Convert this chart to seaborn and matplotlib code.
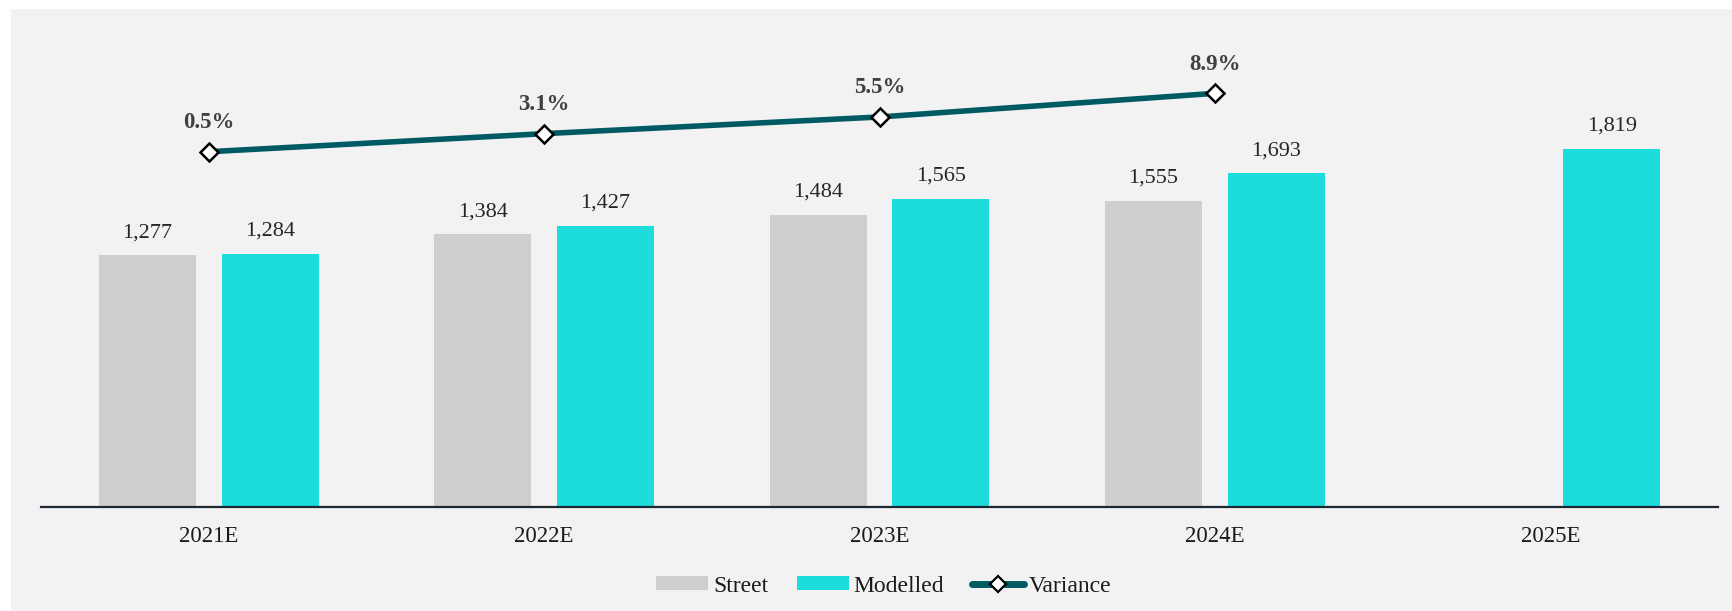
import numpy as np
import pandas as pd
import matplotlib
matplotlib.use("Agg")
import matplotlib.pyplot as plt
import seaborn as sns
from matplotlib.patches import Patch, Rectangle
from matplotlib.lines import Line2D

# ---- data ----
years = ["2021E", "2022E", "2023E", "2024E", "2025E"]
street = [1277, 1384, 1484, 1555, np.nan]
modelled = [1284, 1427, 1565, 1693, 1819]
variance_years = ["2021E", "2022E", "2023E", "2024E"]
variance_pct = [0.5, 3.1, 5.5, 8.9]
series_names = ["Street", "Modelled", "Variance"]

# ---- style ----
GRAY = "#d0cecf"
CYAN = "#1cdcdc"
TEAL = "#005a64"
PANEL = "#f2f2f2"

sns.set_theme(style="white")
plt.rcParams["font.family"] = ["Liberation Serif", "DejaVu Serif"]

W, H = 1732, 611
fig = plt.figure(figsize=(W / 100, H / 100), dpi=100, facecolor="white")
fig.patches.append(Rectangle((11 / W, 0), 1, 1 - 9 / H, transform=fig.transFigure,
                             facecolor=PANEL, edgecolor="none", zorder=-10))

ax = fig.add_axes([41 / W, 104 / H, 1677 / W, 498 / H])
ax.set_facecolor("none")

df = pd.DataFrame({
    "Year": years * 2,
    "Series": [series_names[0]] * len(years) + [series_names[1]] * len(years),
    "Value": street + modelled,
})

sns.barplot(data=df, x="Year", y="Value", hue="Series", order=years,
            hue_order=series_names[:2], palette=[GRAY, CYAN], width=0.732, gap=0.21,
            saturation=1, errorbar=None, legend=False, linewidth=0, ax=ax)

ax.set_xlim(-0.5, len(years) - 0.5)
ax.set_ylim(0, 2528)

for p in ax.patches:
    h = p.get_height()
    if h is None or np.isnan(h) or h == 0:
        continue
    ax.annotate(f"{h:,.0f}", (p.get_x() + p.get_width() / 2, h), xytext=(0, 13),
                textcoords="offset points", ha="center", va="baseline",
                fontsize=16, color="#262626")

for s in ["top", "left", "right"]:
    ax.spines[s].set_visible(False)
ax.spines["bottom"].set_color("#1c2833")
ax.spines["bottom"].set_linewidth(1.6)
ax.set_yticks([])
ax.tick_params(axis="x", length=0, pad=14, labelsize=16.5, labelcolor="#1a1a1a")
ax.set_xlabel("")
ax.set_ylabel("")

# ---- variance line on secondary axis ----
ax2 = ax.twinx()
ax2.set_facecolor("none")
vx = [years.index(y) for y in variance_years]
sns.lineplot(x=vx, y=variance_pct, ax=ax2, color=TEAL, linewidth=4,
             marker="D", markersize=9, markerfacecolor="white",
             markeredgecolor="black", markeredgewidth=1.8, zorder=5)
ax2.set_ylim(-50.6, 21.03)
ax2.set_yticks([])
ax2.set_ylabel("")
for s in ax2.spines.values():
    s.set_visible(False)
for x, v in zip(vx, variance_pct):
    ax2.annotate(f"{v:.1f}%", (x, v), xytext=(0, 17), textcoords="offset points",
                 ha="center", va="baseline", fontsize=16.5, fontweight="bold",
                 color="#404040")

# ---- legend ----
handles = [
    Patch(facecolor=GRAY, edgecolor="none"),
    Patch(facecolor=CYAN, edgecolor="none"),
    Line2D([], [], color=TEAL, linewidth=5, marker="D", markersize=8,
           markerfacecolor="white", markeredgecolor="black", markeredgewidth=1.6,
           solid_capstyle="round"),
]
fig.legend(handles, series_names, loc="center", bbox_to_anchor=(884 / W, 1 - 586 / H),
           ncol=3, frameon=False, fontsize=17, handlelength=2.2, handleheight=0.55,
           handletextpad=0.2, columnspacing=1.2, labelcolor="#1a1a1a")

fig.savefig("out.png", dpi=100, facecolor="white")
